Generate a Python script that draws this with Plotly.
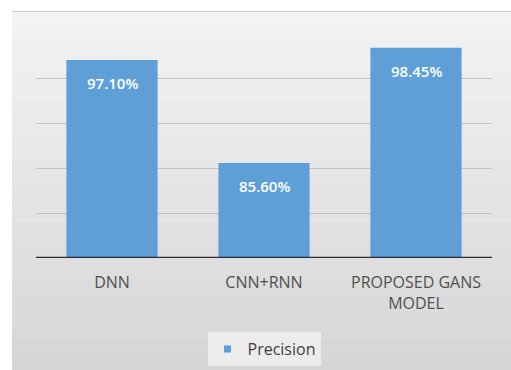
import plotly.graph_objects as go

categories = ["DNN", "CNN+RNN", "PROPOSED GANS<br>MODEL"]
precision = [97.10, 85.60, 98.45]
labels = ["97.10%", "85.60%", "98.45%"]
bar_color = "#5f9fd8"

fig = go.Figure()
fig.add_trace(go.Bar(
    x=categories, y=precision, name="Precision",
    marker=dict(color=bar_color, line=dict(width=0)),
    showlegend=False,
))
# legend entry with small square marker
fig.add_trace(go.Scatter(
    x=[None], y=[None], mode="markers", name="Precision",
    marker=dict(symbol="square", size=7, color=bar_color),
))
for c, v, t in zip(categories, precision, labels):
    fig.add_annotation(x=c, y=v, text=t, showarrow=False, yanchor="top", yshift=-11,
                       font=dict(color="white", size=15, family="Open Sans", weight=600))

W, H = 511, 370
l, r, t, b = 36, 19, 33, 112
pw, ph = W - l - r, H - t - b
def px2x(p): return (p - l) / pw
def py2y(p): return (H - b - p) / ph
top_px, bot_px = 11, 370
n = 24
c0, c1 = (244, 244, 244), (214, 214, 214)
shapes = []
for i in range(n):
    y0p = top_px + (bot_px - top_px) * i / n
    y1p = top_px + (bot_px - top_px) * (i + 1) / n
    f = (i + 0.5) / n
    col = "rgb(%d,%d,%d)" % tuple(int(c0[k] + (c1[k] - c0[k]) * f) for k in range(3))
    shapes.append(dict(type="rect", xref="paper", yref="paper", layer="below",
                       x0=px2x(12), x1=px2x(511), y0=py2y(y1p) - 0.002, y1=py2y(y0p),
                       fillcolor=col, line=dict(width=0)))
shapes.append(dict(type="rect", xref="paper", yref="paper", layer="below",
                   x0=px2x(12), x1=px2x(511), y0=py2y(11), y1=py2y(12),
                   fillcolor="#cfcfcf", line=dict(width=0)))
shapes.append(dict(type="line", xref="paper", yref="y", x0=0, x1=1, y0=75, y1=75,
                   line=dict(color="#2b2b2b", width=2.5), layer="above"))

fig.update_layout(
    width=W, height=H,
    margin=dict(l=l, r=r, t=t, b=b, autoexpand=False),
    paper_bgcolor="white",
    plot_bgcolor="rgba(0,0,0,0)",
    bargap=0.4,
    shapes=shapes,
    showlegend=True,
    legend=dict(orientation="h", x=0.5, xanchor="center", y=py2y(349), yanchor="middle",
                bgcolor="#ececec", font=dict(size=16, color="#404040", family="Open Sans"),
                itemwidth=30),
    font=dict(family="Open Sans"),
)
fig.update_yaxes(range=[75, 100.1], dtick=5, showticklabels=False, showgrid=True,
                 gridcolor="#c4c4c4", gridwidth=1, zeroline=False, showline=False,
                 automargin=False)
fig.update_xaxes(showgrid=False, showline=False, ticks="", ticklabelstandoff=13,
                 automargin=False,
                 tickfont=dict(size=16, color="#505050", family="Open Sans"))

fig.write_html("out.html")
